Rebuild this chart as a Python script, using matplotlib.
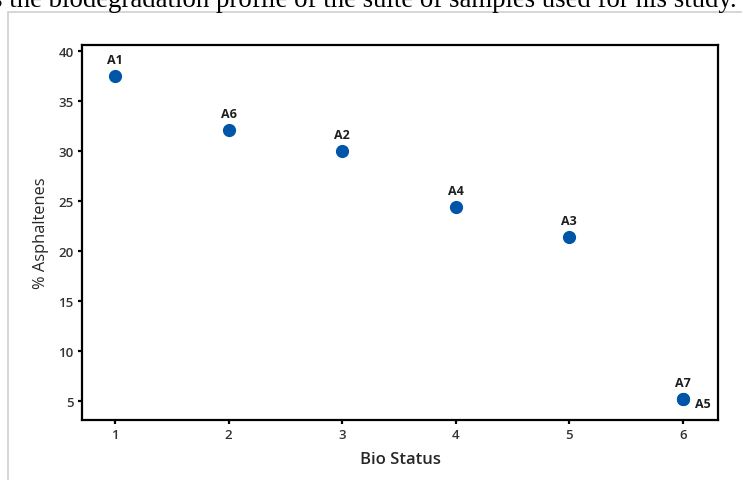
import matplotlib.pyplot as plt
from matplotlib.patches import Rectangle

# data
bio_status = [1, 2, 3, 4, 5, 6, 6]
asphaltenes = [37.5, 32.1, 30.0, 24.4, 21.4, 5.2, 5.2]
samples = ['A1', 'A6', 'A2', 'A4', 'A3', 'A7', 'A5']
x_ticks = [1, 2, 3, 4, 5, 6]
y_ticks = [5, 10, 15, 20, 25, 30, 35, 40]

plt.rcParams['font.family'] = ['Open Sans', 'DejaVu Sans']

fig = plt.figure(figsize=(7.42, 4.81), dpi=100)

# page caption, cut off at the top of the picture
fig.text(737 / 742, 1 - 7 / 481, 's the biodegradation profile of the suite of samples used for his study.',
         ha='right', va='baseline', fontsize=19.3, family='Liberation Serif', color='black')

# light grey frame around the chart
fig.patches.append(Rectangle((8 / 742, -0.1), 1.2, 1 - 13 / 481 + 0.1, transform=fig.transFigure,
                             fill=False, edgecolor='#d0d0d0', linewidth=1.2))

ax = fig.add_axes([82 / 742, 1 - 421 / 481, (718 - 82) / 742, (421 - 46) / 481])
ax.scatter(bio_status, asphaltenes, s=72, color='#0055a8', zorder=3)

for i, name in enumerate(samples):
    if name == 'A5':
        off, ha, va = (9, -3), 'left', 'center'
    else:
        off, ha, va = (0, 7), 'center', 'bottom'
    ax.annotate(name, (bio_status[i], asphaltenes[i]), xytext=off, textcoords='offset points',
                ha=ha, va=va, fontsize=9, fontweight='bold', color='#1e1e1e')

ax.set_xlim(0.71, 6.31)
ax.set_ylim(3.1, 40.6)
ax.set_xticks(x_ticks)
ax.set_yticks(y_ticks)
for s in ax.spines.values():
    s.set_linewidth(1.6)
ax.tick_params(length=3, width=1.6, labelsize=9.5, labelcolor='#333333', pad=3)
for lbl in ax.get_xticklabels() + ax.get_yticklabels():
    lbl.set_fontweight('semibold')
ax.set_xlabel('Bio Status', fontsize=12, fontweight='semibold', color='#262626', labelpad=7)
ax.set_ylabel('% Asphaltenes', fontsize=11.8, color='#262626', labelpad=7)

fig.savefig('out.png', dpi=100)
